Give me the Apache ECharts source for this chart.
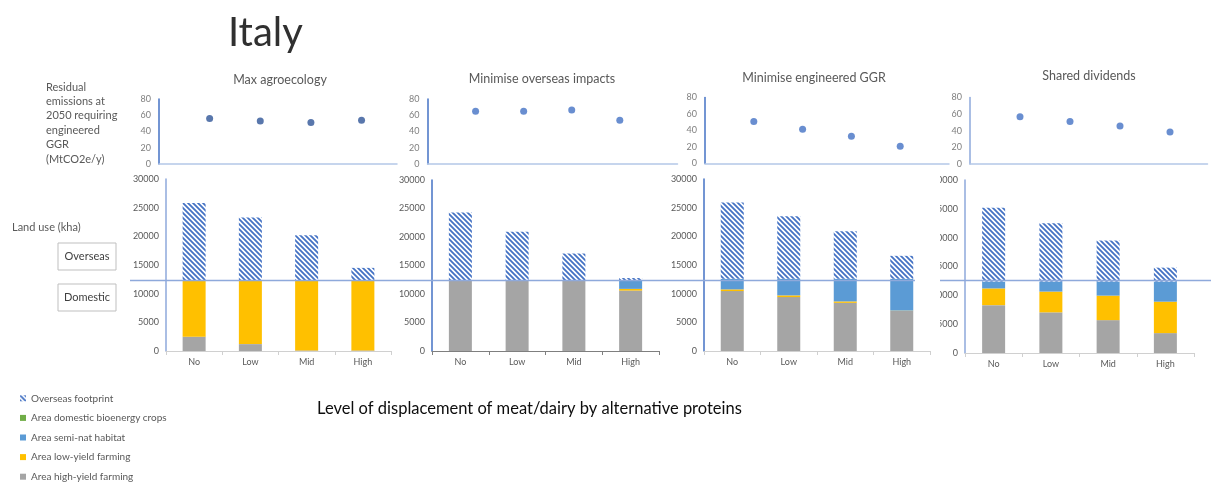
<!DOCTYPE html>
<html>
<head>
<meta charset="utf-8">
<title>Italy – land use and residual emissions</title>
<script src="https://cdn.jsdelivr.net/npm/echarts@6/dist/echarts.min.js"></script>
<style>
  html, body { margin: 0; padding: 0; background: #fff; }
  #chart { width: 1211px; height: 482px; }
</style>
</head>
<body>
<div id="chart"></div>
<script>
// ---- data ----
const categories = ['No', 'Low', 'Mid', 'High'];
const scenarios = ['Max agroecology', 'Minimise overseas impacts', 'Minimise engineered GGR', 'Shared dividends'];

// residual emissions at 2050 requiring engineered GGR (MtCO2e/y)
const residualMaxAgro = [56, 52.8, 51, 54];
const residualMinOverseas = [64.9, 64.9, 66.5, 54];
const residualMinGGR = [50.9, 41.6, 33.1, 21];
const residualShared = [56.8, 51.2, 45.6, 38.4];

// land use (kha), stacked from the ground up
const highYieldMaxAgro = [2500, 1200, 100, 100];
const lowYieldMaxAgro = [9800, 11100, 12200, 12200];
const semiNatMaxAgro = [0, 0, 0, 0];
const bioenergyMaxAgro = [0, 0, 0, 0];
const overseasMaxAgro = [13500, 11000, 7900, 2200];

const highYieldMinOverseas = [12300, 12300, 12300, 10600];
const lowYieldMinOverseas = [0, 0, 0, 300];
const semiNatMinOverseas = [0, 0, 0, 1500];
const bioenergyMinOverseas = [0, 0, 0, 0];
const overseasMinOverseas = [12000, 8600, 4800, 400];

const highYieldMinGGR = [10450, 9400, 8400, 7000];
const lowYieldMinGGR = [300, 300, 250, 50];
const semiNatMinGGR = [1850, 2900, 3950, 5550];
const bioenergyMinGGR = [0, 0, 0, 0];
const overseasMinGGR = [13300, 10900, 8300, 4000];

const highYieldShared = [8300, 7050, 5700, 3450];
const lowYieldShared = [2900, 3600, 4250, 5450];
const semiNatShared = [1200, 1750, 2450, 3500];
const bioenergyShared = [0, 0, 0, 0];
const overseasShared = [12800, 10100, 7100, 2400];

// boundary between domestic and overseas land (kha)
const domesticLevel = 12300;

const emissionTicks = [0, 20, 40, 60, 80];
const landTicks = [0, 5000, 10000, 15000, 20000, 25000, 30000];

const seriesNames = {
  overseas: 'Overseas footprint',
  bioenergy: 'Area domestic bioenergy crops',
  semiNat: 'Area semi-nat habitat',
  lowYield: 'Area low-yield farming',
  highYield: 'Area high-yield farming'
};
const legendOrder = ['overseas', 'bioenergy', 'semiNat', 'lowYield', 'highYield'];

// ---- layout ----
const FONT = 'Lato, "Open Sans", sans-serif';
const panels = [
  { residual: residualMaxAgro, highYield: highYieldMaxAgro, lowYield: lowYieldMaxAgro, semiNat: semiNatMaxAgro, bioenergy: bioenergyMaxAgro, overseas: overseasMaxAgro,
    scatterGrid: { left: 159, top: 99, width: 238, height: 65 }, xMax: 4.7, dot: '#2F5597', sAxis: '#4472C4',
    barGrid: { left: 166, top: 179, width: 225, height: 172 }, bAxis: '#8EA9DB', xLine: '#D0D0D0', titleX: 280, titleY: 80 },
  { residual: residualMinOverseas, highYield: highYieldMinOverseas, lowYield: lowYieldMinOverseas, semiNat: semiNatMinOverseas, bioenergy: bioenergyMinOverseas, overseas: overseasMinOverseas,
    scatterGrid: { left: 427.5, top: 99, width: 250, height: 65 }, xMax: 5.2, dot: '#4472C4', sAxis: '#4472C4',
    barGrid: { left: 432, top: 180, width: 227, height: 171 }, bAxis: '#4472C4', xLine: '#7F7F7F', titleX: 542, titleY: 79 },
  { residual: residualMinGGR, highYield: highYieldMinGGR, lowYield: lowYieldMinGGR, semiNat: semiNatMinGGR, bioenergy: bioenergyMinGGR, overseas: overseasMinGGR,
    scatterGrid: { left: 705, top: 97.5, width: 244, height: 66 }, xMax: 5.0, dot: '#4472C4', sAxis: '#4472C4',
    barGrid: { left: 704, top: 179, width: 226, height: 172 }, bAxis: '#4472C4', xLine: '#D0D0D0', titleX: 814, titleY: 78 },
  { residual: residualShared, highYield: highYieldShared, lowYield: lowYieldShared, semiNat: semiNatShared, bioenergy: bioenergyShared, overseas: overseasShared,
    scatterGrid: { left: 970, top: 97.5, width: 237.5, height: 66.5 }, xMax: 4.75, dot: '#4472C4', sAxis: '#8EA9DB',
    barGrid: { left: 965, top: 180, width: 229, height: 173 }, bAxis: '#8EA9DB', xLine: '#D0D0D0', titleX: 1089, titleY: 76 }
];

// diagonal hatch used for the overseas footprint
function hatchPattern() {
  const n = 5;
  const c = document.createElement('canvas');
  c.width = n; c.height = n;
  const g = c.getContext('2d');
  g.fillStyle = '#ffffff';
  g.fillRect(0, 0, n, n);
  g.strokeStyle = '#4472C4';
  g.lineWidth = 1.8;
  g.beginPath();
  g.moveTo(-1, -1); g.lineTo(n + 1, n + 1);
  g.moveTo(-1, n - 1); g.lineTo(1, n + 1);
  g.moveTo(n - 1, -1); g.lineTo(n + 1, 1);
  g.stroke();
  return c;
}
const hatch = { image: hatchPattern(), repeat: 'repeat' };

const colors = {
  highYield: '#A5A5A5',
  lowYield: '#FFC000',
  semiNat: '#5B9BD5',
  bioenergy: '#70AD47',
  overseas: hatch
};

const plain = v => String(v);
const grids = [], xAxes = [], yAxes = [], series = [];

panels.forEach((p, i) => {
  grids.push(Object.assign({ containLabel: false }, p.scatterGrid));
  xAxes.push({
    gridIndex: i, type: 'value', min: 0, max: p.xMax,
    axisLine: { show: true, lineStyle: { color: '#B4C7E7', width: 1.5 } },
    axisTick: { show: false }, axisLabel: { show: false }, splitLine: { show: false }
  });
  yAxes.push({
    gridIndex: i, type: 'value', min: emissionTicks[0], max: emissionTicks[emissionTicks.length - 1],
    interval: emissionTicks[1] - emissionTicks[0],
    axisLine: { show: true, lineStyle: { color: p.sAxis, width: 1.5 } },
    axisTick: { show: false }, splitLine: { show: false },
    axisLabel: { color: '#7F7F7F', fontSize: 9, fontFamily: FONT, margin: 8, formatter: plain }
  });
  series.push({
    type: 'scatter', name: 'Residual emissions', xAxisIndex: i, yAxisIndex: i,
    symbol: 'circle', symbolSize: 7,
    itemStyle: { color: p.dot },
    data: p.residual.map((v, k) => [k + 1, v])
  });
});

panels.forEach((p, i) => {
  const gi = i + 4;
  grids.push(Object.assign({ containLabel: false }, p.barGrid));
  xAxes.push({
    gridIndex: gi, type: 'category', data: categories,
    axisLine: { show: true, lineStyle: { color: p.xLine, width: 1 } },
    axisTick: { show: true, length: 4, lineStyle: { color: p.xLine } },
    axisLabel: { color: '#595959', fontSize: 9, fontFamily: FONT, margin: 7 }
  });
  yAxes.push({
    gridIndex: gi, type: 'value', min: landTicks[0], max: landTicks[landTicks.length - 1],
    interval: landTicks[1] - landTicks[0],
    axisLine: { show: true, lineStyle: { color: p.bAxis, width: 1.5 } },
    axisTick: { show: false }, splitLine: { show: false },
    axisLabel: { color: '#595959', fontSize: 9, fontFamily: FONT, margin: 7, formatter: plain }
  });
  ['highYield', 'lowYield', 'semiNat', 'bioenergy', 'overseas'].forEach(key => {
    series.push({
      type: 'bar', name: seriesNames[key], xAxisIndex: gi, yAxisIndex: gi,
      stack: 'land' + i, barWidth: 23,
      itemStyle: { color: colors[key] },
      data: p[key]
    });
  });
});

// one single-entry legend per row, stacked down the bottom-left corner
const legends = legendOrder.map((key, k) => ({
  orient: 'vertical', left: 20, top: 393.3 + k * 19.6, padding: 0,
  data: [seriesNames[key]],
  icon: 'rect', itemWidth: 6, itemHeight: 6,
  textStyle: { color: '#595959', fontSize: 10, fontFamily: FONT, lineHeight: 10 },
  selectedMode: false
}));

const chart = echarts.init(document.getElementById('chart'), null, { renderer: 'canvas' });

function txt(text, x, y, size, color, align, lineHeight) {
  const style = { text: text, font: size + 'px ' + FONT, fill: color, textAlign: align || 'left', textVerticalAlign: 'middle' };
  if (lineHeight) style.lineHeight = lineHeight;
  return { type: 'text', x: x, y: y, z: 10, style: style };
}

const staticGraphics = [
  txt('Italy', 228, 33, 40, '#303030', 'left'),
  txt('Residual\nemissions at\n2050 requiring\nengineered\nGGR\n(MtCO2e/y)', 46, 123, 11, '#595959', 'left', 14.4),
  txt('Land use (kha)', 12, 227, 11, '#595959', 'left'),
  { type: 'rect', shape: { x: 58, y: 243, width: 58, height: 27 }, style: { fill: '#fff', stroke: '#BFBFBF', lineWidth: 1 }, z: 5 },
  txt('Overseas', 87, 256.5, 11, '#404040', 'center'),
  { type: 'rect', shape: { x: 58, y: 284, width: 58, height: 27 }, style: { fill: '#fff', stroke: '#BFBFBF', lineWidth: 1 }, z: 5 },
  txt('Domestic', 87, 297.5, 11, '#404040', 'center'),
  txt('Level of displacement of meat/dairy by alternative proteins', 529.5, 409, 16.5, '#0D0D0D', 'center'),
  // the last panel's tick labels sit partly under the neighbouring panel
  { type: 'rect', z: 30, shape: { x: 915, y: 172, width: 25, height: 172 }, style: { fill: '#ffffff' } }
];
panels.forEach((p, i) => staticGraphics.push(txt(scenarios[i], p.titleX, p.titleY, 12.5, '#595959', 'center')));

chart.setOption({
  animation: false,
  backgroundColor: '#ffffff',
  grid: grids,
  xAxis: xAxes,
  yAxis: yAxes,
  series: series,
  legend: legends,
  graphic: staticGraphics
});

// domestic / overseas divide, drawn across all four land-use panels
const lineY = chart.convertToPixel({ yAxisIndex: 4 }, domesticLevel);
chart.setOption({
  graphic: staticGraphics.concat([
    { type: 'line', z: 20, shape: { x1: 130, y1: lineY, x2: 1211, y2: lineY }, style: { stroke: '#8EA9DB', lineWidth: 1.5 } }
  ])
});
</script>
</body>
</html>
